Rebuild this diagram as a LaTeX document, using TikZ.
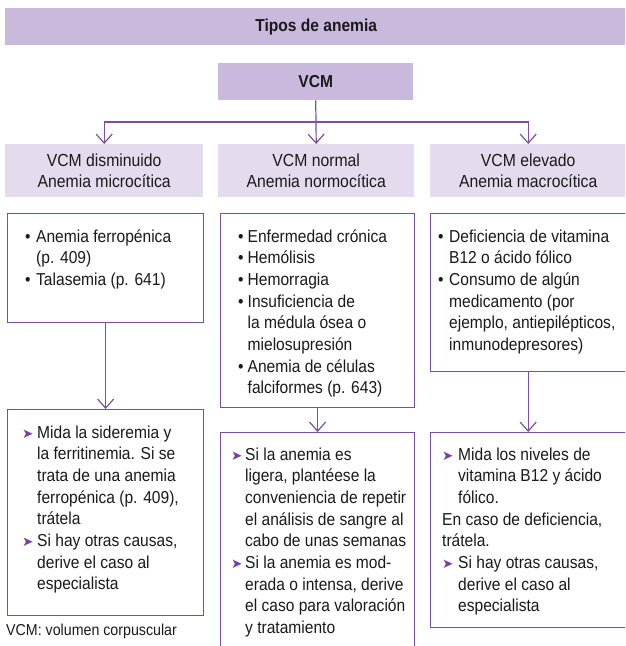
\documentclass[tikz,border=0pt]{standalone}
\usepackage{fontspec}
\setmainfont{Liberation Sans}[FakeStretch=0.9]
\newfontfamily\dejavu{DejaVu Sans}
\usetikzlibrary{arrows.meta}
\definecolor{titlefill}{HTML}{C9B9DC}
\definecolor{headfill}{HTML}{E4DCEE}
\definecolor{vline}{HTML}{7B4FA0}
\definecolor{arrowc}{HTML}{7A3FA0}
\definecolor{inkc}{HTML}{1A1A1A}
\newlength{\bulw}\setlength{\bulw}{11pt}
\newlength{\arrw}\setlength{\arrw}{15pt}
\newcommand{\bul}{\makebox[\bulw][l]{•}}
\newcommand{\bind}{\hspace*{\bulw}}
\newcommand{\arr}{\makebox[\arrw][l]{\textcolor{arrowc}{\dejavu\fontsize{13.5}{14}\selectfont ➤}}}
\newcommand{\aind}{\hspace*{\arrw}}
\newcommand{\boxtxt}[1]{\parbox[t]{205pt}{\raggedright\fontsize{17.3}{21.7}\selectfont #1}}
\tikzset{
  darkbar/.style={rectangle, fill=titlefill, inner sep=0pt, anchor=north west,
    font=\fontsize{17.3}{20}\selectfont\bfseries, text=inkc},
  headbar/.style={rectangle, fill=headfill, inner sep=0pt, anchor=north west,
    align=center, font=\fontsize{17.5}{20.5}\selectfont, text=inkc, minimum height=53pt},
  framebox/.style={rectangle, draw=vline, line width=1.2pt, fill=white, inner sep=0pt, anchor=north west},
  txtnode/.style={inner sep=0pt, anchor=base west, text=inkc},
  conn/.style={draw=vline, line width=1.2pt},
  arrowconn/.style={conn, -{Straight Barb[length=9pt,width=16pt,line width=1.2pt]}}
}
\begin{document}
\begin{tikzpicture}[x=1pt,y=-1pt]
\useasboundingbox (0,0) rectangle (625,646);
\clip (0,0) rectangle (625,646);

% title and VCM
\node[darkbar, minimum width=622pt, minimum height=37pt] (title) at (5,8) {Tipos de anemia};
\node[darkbar, minimum width=195pt, minimum height=37pt] (vcm) at (218,63) {VCM};

% headers
\node[headbar, minimum width=198pt] (h1) at (5,144) {VCM disminuido\\Anemia microcítica};
\node[headbar, minimum width=196pt] (h2) at (218,144) {VCM normal\\Anemia normocítica};
\node[headbar, minimum width=196pt] (h3) at (430,144) {VCM elevado\\Anemia macrocítica};

% boxes
\node[framebox, minimum width=196pt, minimum height=109pt] (b1) at (7,213) {};
\node[framebox, minimum width=194pt, minimum height=194pt] (b2) at (220,213) {};
\node[framebox, minimum width=200pt, minimum height=158pt] (b3) at (430,213) {};
\node[framebox, minimum width=196pt, minimum height=206pt] (c1) at (7,409) {};
\node[framebox, minimum width=194pt, minimum height=240pt] (c2) at (220,432) {};
\node[framebox, minimum width=200pt, minimum height=195pt] (c3) at (430,432) {};

% connectors
\coordinate (split) at (316,122);
\draw[conn] (vcm.south) -- (split);
\draw[arrowconn] (split) -| (h1.north);
\draw[arrowconn] (split) -| (h3.north);
\draw[arrowconn] (split) -- (h2.north);
\draw[arrowconn] (b1.south) -- (c1.north);
\draw[arrowconn] (b2.south) -- (c2.north);
\draw[arrowconn] (b3.south -| h3.north) -- (c3.north -| h3.north);

% texts of first boxes
\node[txtnode] (t1) at (25,242) {\boxtxt{%
\bul Anemia ferropénica\\
\bind (p. 409)\\
\bul Talasemia (p. 641)}};
\node[txtnode] (t2) at (238,242) {\boxtxt{\setlength{\bulw}{9.5pt}%
\bul Enfermedad crónica\\
\bul Hemólisis\\
\bul Hemorragia\\
\bul Insuficiencia de\\
\bind la médula ósea o\\
\bind mielosupresión\\
\bul Anemia de células\\
\bind falciformes (p. 643)}};
\node[txtnode] (t3) at (438,242) {\boxtxt{%
\bul Deficiencia de vitamina\\
\bind B12 o ácido fólico\\
\bul Consumo de algún\\
\bind medicamento (por\\
\bind ejemplo, antiepilépticos,\\
\bind inmunodepresores)}};

% texts of second boxes
\node[txtnode] (u1) at (22,438) {\boxtxt{%
\arr Mida la sideremia y\\
\aind la ferritinemia. Si se\\
\aind trata de una anemia\\
\aind ferropénica (p. 409),\\
\aind trátela\\
\arr Si hay otras causas,\\
\aind derive el caso al\\
\aind especialista}};
\node[txtnode] (u2) at (231,460) {\boxtxt{\setlength{\arrw}{14pt}%
\arr Si la anemia es\\
\aind ligera, plantéese la\\
\aind conveniencia de repetir\\
\aind el análisis de sangre al\\
\aind cabo de unas semanas\\
\arr Si la anemia es mod-\\
\aind erada o intensa, derive\\
\aind el caso para valoración\\
\aind y tratamiento}};
\node[txtnode] (u3) at (442,460) {\boxtxt{\setlength{\arrw}{16pt}%
\arr Mida los niveles de\\
\aind vitamina B12 y ácido\\
\aind fólico.\\
En caso de deficiencia,\\
trátela.\\
\arr Si hay otras causas,\\
\aind derive el caso al\\
\aind especialista}};

% footnote
\node[txtnode, font=\fontsize{15.8}{18}\selectfont] (fn) at (6,635) {VCM: volumen corpuscular};
\end{tikzpicture}
\end{document}
